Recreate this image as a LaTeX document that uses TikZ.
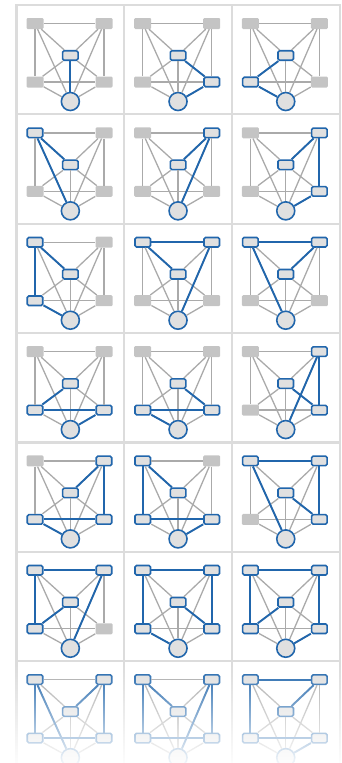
\documentclass[tikz,border=0pt]{standalone}
\usetikzlibrary{fadings}

\definecolor{pathblue}{RGB}{33,102,172}
\definecolor{nodegray}{RGB}{196,196,196}
\definecolor{nodefill}{RGB}{224,224,224}
\definecolor{edgegray}{RGB}{170,170,170}
\definecolor{cellgray}{RGB}{220,220,220}

\tikzfading[name=fadedown, top color=transparent!100, bottom color=transparent!6]

\makeatletter
\newcommand{\setlook}[2]{%
  \edef\lookcheck{\noexpand\in@{,#1,}{,#2,}}\lookcheck
  \ifin@\def\boxlook{hlbox}\else\def\boxlook{graybox}\fi}
\makeatother

\begin{document}
\begin{tikzpicture}[x=1pt,y=-1pt,
  cell/.style={draw=cellgray, line width=2.2pt},
  graybox/.style={rectangle, fill=nodegray, minimum width=17pt, minimum height=11pt, inner sep=0pt, rounded corners=1.2pt},
  hlbox/.style={rectangle, draw=pathblue, fill=nodefill, line width=1.6pt, minimum width=15.5pt, minimum height=9.5pt, inner sep=0pt, rounded corners=1.5pt},
  endpt/.style={circle, draw=pathblue, fill=nodefill, line width=1.6pt, minimum size=18pt, inner sep=0pt},
  link/.style={draw=edgegray, line width=1.3pt},
  hop/.style={draw=pathblue, line width=1.9pt}]
\useasboundingbox (0,0) rectangle (341,763);

% one panel per path from the centre box to the circle
\foreach \col/\row/\hl/\hops in {
  1/1/{}/{c/o}, 2/1/{e}/{c/e,e/o}, 3/1/{d}/{c/d,d/o},
  1/2/{a}/{c/a,a/o}, 2/2/{b}/{c/b,b/o}, 3/2/{b,e}/{c/b,b/e,e/o},
  1/3/{a,d}/{c/a,a/d,d/o}, 2/3/{a,b}/{c/a,a/b,b/o}, 3/3/{a,b}/{c/b,b/a,a/o},
  1/4/{d,e}/{c/d,d/e,e/o}, 2/4/{d,e}/{c/e,e/d,d/o}, 3/4/{b,e}/{c/e,e/b,b/o},
  1/5/{b,d,e}/{c/b,b/e,e/d,d/o}, 2/5/{a,d,e}/{c/a,a/d,d/e,e/o}, 3/5/{a,b,e}/{c/e,e/b,b/a,a/o},
  1/6/{a,b,d}/{c/d,d/a,a/b,b/o}, 2/6/{a,b,d,e}/{c/e,e/b,b/a,a/d,d/o}, 3/6/{a,b,d,e}/{c/d,d/a,a/b,b/e,e/o},
  1/7/{a,b,d,e}/{c/b,b/e,e/d,d/a,a/o}, 2/7/{a,b,d,e}/{c/a,a/d,d/e,e/b,b/o}, 3/7/{a,b,d,e}/{c/b,b/a,a/d,d/e,e/o}} {
  \pgfmathsetmacro\px{16.5+(\col-1)*107.7}
  \pgfmathsetmacro\py{5+(\row-1)*109.35}
  \begin{scope}[shift={(\px,\py)}]
    \draw[cell] (0,0) rectangle (107.7,109.35);
    \foreach \n/\x/\y in {a/18.5/18.5, b/87.5/18.5, d/18.5/77, e/87.5/77} {
      \setlook{\n}{\hl}
      \node[\boxlook] (\n) at (\x,\y) {};
    }
    \node[hlbox] (c) at (53.85,50.5) {};
    \node[endpt] (o) at (53.85,96.5) {};
    \foreach \u/\v in {a/b,a/d,b/e,d/e,a/c,b/c,d/c,e/c,a/o,b/o,d/o,e/o,c/o}
      \draw[link] (\u) -- (\v);
    \foreach \u/\v in \hops
      \draw[hop] (\u) -- (\v);
  \end{scope}
}

% last row fades out
\fill[white, path fading=fadedown] (0,664) rectangle (341,763);
\end{tikzpicture}
\end{document}
